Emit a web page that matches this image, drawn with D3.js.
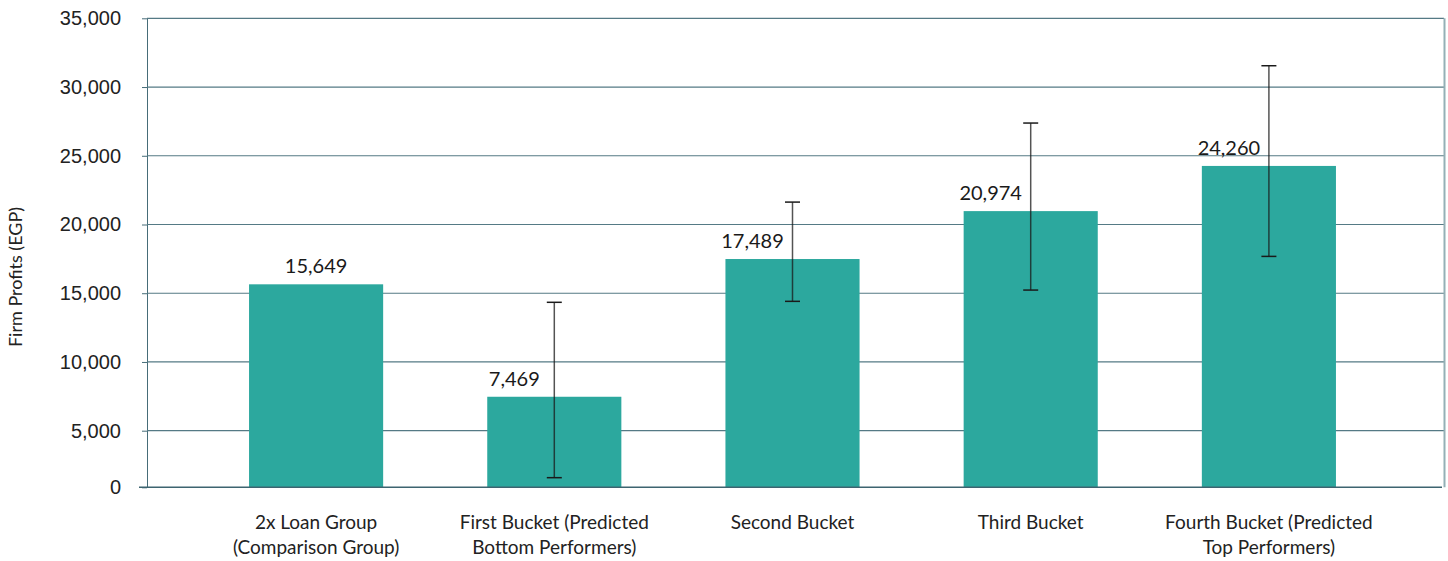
<!DOCTYPE html>
<html>
<head>
<meta charset="utf-8">
<script src="https://cdn.jsdelivr.net/npm/d3@7"></script>
<style>
  body { margin: 0; background: #fff; }
  svg { display: block; }
</style>
</head>
<body>
<div id="canvas"></div>
<script>
"use strict";

let svgWidth = 1448;
let svgHeight = 561;

// data
let categories = [
  "2x Loan Group|(Comparison Group)",
  "First Bucket (Predicted|Bottom Performers)",
  "Second Bucket",
  "Third Bucket",
  "Fourth Bucket (Predicted|Top Performers)"
];
let profits = [15649, 7469, 17489, 20974, 24260];
let errLow = [null, 850, 14410, 15230, 17680];
let errHigh = [null, 14340, 21630, 27380, 31550];
let yTicks = [0, 5000, 10000, 15000, 20000, 25000, 30000, 35000];

let plotLeft = 147;
let plotRight = 1444;
let plotTop = 18.3;
let plotBottom = 487.3;

let svg = d3.select("#canvas")
  .append("svg")
  .attr("width", svgWidth)
  .attr("height", svgHeight);

// the first interval is drawn shorter in the original, so the scale is polylinear
let yScale = d3.scaleLinear()
  .domain([0, 5000, 35000])
  .range([plotBottom, 430.7, plotTop]);

let xScale = d3.scaleBand()
  .domain(categories)
  .range([197, 1388])
  .paddingInner(0.437)
  .paddingOuter(0.2185);

/* gridlines + y axis */
let yAxis = svg.append("g")
  .attr("transform", "translate(" + plotLeft + ",0)")
  .call(d3.axisLeft(yScale)
    .tickValues(yTicks)
    .tickSize(5)
    .tickPadding(21)
    .tickFormat(d3.format(",")));

yAxis.select(".domain")
  .attr("stroke", "#466c78")
  .attr("d", "M0.5," + plotTop + "V" + plotBottom);

yAxis.selectAll(".tick line").attr("stroke", "#466c78");
yAxis.selectAll(".tick text")
  .attr("fill", "#222")
  .style("font-family", "'Liberation Sans', Arial, sans-serif")
  .style("font-size", "20px");

svg.append("g")
  .selectAll("line")
  .data(yTicks.filter(function(d){ return d > 0; }))
  .enter()
  .append("line")
  .attr("x1", plotLeft)
  .attr("x2", plotRight)
  .attr("y1", function(d){ return yScale(d); })
  .attr("y2", function(d){ return yScale(d); })
  .attr("stroke", "#557a85")
  .attr("stroke-width", 1.2);

// right border
svg.append("line")
  .attr("x1", plotRight + 0.5)
  .attr("x2", plotRight + 0.5)
  .attr("y1", plotTop)
  .attr("y2", plotBottom)
  .attr("stroke", "#94b0b6")
  .attr("stroke-width", 2);

/* bars */
svg.selectAll("rect.bar")
  .data(profits)
  .enter()
  .append("rect")
  .attr("class", "bar")
  .attr("x", function(d, i){ return xScale(categories[i]); })
  .attr("y", function(d){ return yScale(d); })
  .attr("width", xScale.bandwidth())
  .attr("height", function(d){ return plotBottom - yScale(d); })
  .attr("fill", "#2ca89e");

// x axis line
svg.append("line")
  .attr("x1", 139)
  .attr("x2", 1442)
  .attr("y1", plotBottom)
  .attr("y2", plotBottom)
  .attr("stroke", "#3d6470")
  .attr("stroke-width", 1.5);

/* error bars */
let capHalf = 7.5;
profits.forEach(function(d, i) {
  if (errLow[i] === null) return;
  let cx = xScale(categories[i]) + xScale.bandwidth() / 2;
  let g = svg.append("g")
    .attr("stroke", "#1a1a1a")
    .attr("stroke-width", 1.5);
  g.append("line")
    .attr("x1", cx).attr("x2", cx)
    .attr("y1", yScale(errHigh[i])).attr("y2", yScale(errLow[i]))
    .attr("stroke-opacity", 0.75);
  g.append("line")
    .attr("x1", cx - capHalf).attr("x2", cx + capHalf)
    .attr("y1", yScale(errHigh[i])).attr("y2", yScale(errHigh[i]));
  g.append("line")
    .attr("x1", cx - capHalf).attr("x2", cx + capHalf)
    .attr("y1", yScale(errLow[i])).attr("y2", yScale(errLow[i]));
});

/* value labels (shifted left where an error bar is in the way) */
svg.selectAll("text.value")
  .data(profits)
  .enter()
  .append("text")
  .attr("class", "value")
  .attr("x", function(d, i){
    let cx = xScale(categories[i]) + xScale.bandwidth() / 2;
    return errLow[i] === null ? cx : cx - 40;
  })
  .attr("y", function(d){ return yScale(d) - 11; })
  .attr("text-anchor", "middle")
  .attr("fill", "#1a1a1a")
  .style("font-family", "Lato, sans-serif")
  .style("font-size", "20px")
  .text(function(d){ return d3.format(",")(d); });

/* category labels */
categories.forEach(function(c) {
  let lines = c.split("|");
  let t = svg.append("text")
    .attr("x", xScale(c) + xScale.bandwidth() / 2)
    .attr("y", 529)
    .attr("text-anchor", "middle")
    .attr("fill", "#222")
    .style("font-family", "Lato, sans-serif")
    .style("font-size", "19px");
  lines.forEach(function(l, j) {
    t.append("tspan")
      .attr("x", xScale(c) + xScale.bandwidth() / 2)
      .attr("dy", j === 0 ? 0 : 25)
      .text(l);
  });
});

/* y axis title */
svg.append("text")
  .attr("transform", "translate(22," + 277 + ") rotate(-90)")
  .attr("text-anchor", "middle")
  .attr("fill", "#222")
  .style("font-family", "Lato, sans-serif")
  .style("font-size", "18px")
  .text("Firm Profits (EGP)");
</script>
</body>
</html>
